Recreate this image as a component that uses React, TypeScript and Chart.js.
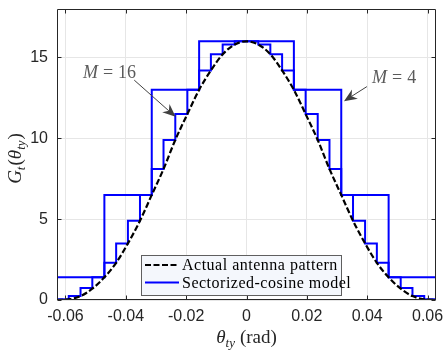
import React, { useEffect, useRef } from "react";
import { Chart, registerables } from "chart.js";
Chart.register(...registerables);

const W = 443;
const H = 351;

// Axis ticks
const xTicks = [-0.06, -0.04, -0.02, 0, 0.02, 0.04, 0.06];
const yTicks = [0, 5, 10, 15];
const xMin = -0.0628;
const xMax = 0.0628;
const yMin = 0;
const yMax = 18;

// Sectorized-cosine model, M = 16 (positive half: outer edge of each sector, gain)
const edges16 = [0.0039, 0.0079, 0.0118, 0.0157, 0.0196, 0.0236, 0.0275, 0.0314, 0.0353, 0.0393, 0.0432, 0.0471, 0.0511, 0.055, 0.0589, 0.0628];
const gain16 = [16, 15.8, 15.2, 14.2, 13.0, 11.5, 9.9, 8.1, 6.5, 4.9, 3.5, 2.3, 1.4, 0.75, 0.25, 0.05];

// Sectorized-cosine model, M = 4
const edges4 = [0.0157, 0.0314, 0.0471, 0.0628];
const gain4 = [16, 13, 6.5, 1.4];

// Actual antenna pattern samples (theta >= 0, symmetric)
const patternTheta = [0, 0.0039, 0.0079, 0.0118, 0.0157, 0.0196, 0.0236, 0.0275, 0.0314, 0.0353, 0.0393, 0.0432, 0.0471, 0.0511, 0.055, 0.0589, 0.0628];
const patternGain = [16, 15.8, 15.2, 14.2, 13.0, 11.5, 9.9, 8.1, 6.5, 4.9, 3.5, 2.3, 1.4, 0.7, 0.24, 0.04, 0];

const legendLabels = ["Actual antenna pattern", "Sectorized-cosine model"];

// Annotations (data coordinates)
const annLabels = ["16", "4"];
const annText = [[-0.0454, 14.1], [0.0489, 13.8]];
const annTail = [[-0.0372, 13.6], [0.0399, 13.2]];
const annTip = [[-0.0235, 11.33], [0.0323, 12.3]];

const SERIF = '"Liberation Serif", "DejaVu Serif", serif';
const SANS = '"Liberation Sans", Arial, Helvetica, sans-serif';
const BLUE = "#0000ff";

function stepSeries(edges: number[], gains: number[]) {
  const pts: { x: number; y: number }[] = [];
  const M = edges.length;
  for (let k = M - 1; k >= 1; k--) pts.push({ x: -edges[k], y: gains[k] });
  pts.push({ x: -edges[0], y: gains[0] });
  for (let k = 1; k < M; k++) pts.push({ x: edges[k - 1], y: gains[k] });
  pts.push({ x: edges[M - 1], y: gains[M - 1] });
  return pts;
}

function patternSeries() {
  const pts: { x: number; y: number }[] = [];
  for (let i = patternTheta.length - 1; i >= 1; i--) pts.push({ x: -patternTheta[i], y: patternGain[i] });
  for (let i = 0; i < patternTheta.length; i++) pts.push({ x: patternTheta[i], y: patternGain[i] });
  return pts;
}

type Part = { t: string; font: string; dy?: number; gap?: number };

function richWidth(ctx: CanvasRenderingContext2D, parts: Part[]) {
  let w = 0;
  for (const p of parts) {
    ctx.font = p.font;
    w += ctx.measureText(p.t).width + (p.gap || 0);
  }
  return w;
}

function drawRich(ctx: CanvasRenderingContext2D, parts: Part[], x: number, y: number) {
  let cx = x;
  for (const p of parts) {
    ctx.font = p.font;
    ctx.fillText(p.t, cx, y + (p.dy || 0));
    cx += ctx.measureText(p.t).width + (p.gap || 0);
  }
}

function drawArrow(ctx: CanvasRenderingContext2D, x0: number, y0: number, x1: number, y1: number) {
  const ang = Math.atan2(y1 - y0, x1 - x0);
  const hl = 13;
  const hw = 5.5;
  const notch = 9;
  const bx = x1 - hl * Math.cos(ang);
  const by = y1 - hl * Math.sin(ang);
  const nx = x1 - notch * Math.cos(ang);
  const ny = y1 - notch * Math.sin(ang);
  ctx.strokeStyle = "#404040";
  ctx.fillStyle = "#404040";
  ctx.lineWidth = 1;
  ctx.beginPath();
  ctx.moveTo(x0, y0);
  ctx.lineTo(nx, ny);
  ctx.stroke();
  ctx.beginPath();
  ctx.moveTo(x1, y1);
  ctx.lineTo(bx + hw * Math.sin(ang), by - hw * Math.cos(ang));
  ctx.lineTo(nx, ny);
  ctx.lineTo(bx - hw * Math.sin(ang), by + hw * Math.cos(ang));
  ctx.closePath();
  ctx.fill();
}

const overlay = {
  id: "overlay",
  afterDatasetsDraw(chart: any) {
    const ctx: CanvasRenderingContext2D = chart.ctx;
    const { left, right, top, bottom } = chart.chartArea;
    const xs = chart.scales.x;
    const ys = chart.scales.y;
    ctx.save();

    // Box and inward ticks
    const L = Math.round(left) + 0.5;
    const R = Math.round(right) - 0.5;
    const T = Math.round(top) + 0.5;
    const B = Math.round(bottom) - 0.5;
    ctx.strokeStyle = "#262626";
    ctx.lineWidth = 1;
    ctx.beginPath();
    ctx.rect(L, T, R - L, B - T);
    const tl = 4;
    for (const v of xTicks) {
      const px = Math.round(xs.getPixelForValue(v)) + 0.5;
      ctx.moveTo(px, B);
      ctx.lineTo(px, B - tl);
      ctx.moveTo(px, T);
      ctx.lineTo(px, T + tl);
    }
    for (const v of yTicks) {
      const py = Math.round(ys.getPixelForValue(v)) + 0.5;
      ctx.moveTo(L, py);
      ctx.lineTo(L + tl, py);
      ctx.moveTo(R, py);
      ctx.lineTo(R - tl, py);
    }
    ctx.stroke();

    // Annotations
    for (let i = 0; i < annLabels.length; i++) {
      const tx = xs.getPixelForValue(annTail[i][0]);
      const ty = ys.getPixelForValue(annTail[i][1]);
      const hx = xs.getPixelForValue(annTip[i][0]);
      const hy = ys.getPixelForValue(annTip[i][1]);
      drawArrow(ctx, tx, ty, hx, hy);
      const parts: Part[] = [
        { t: "M", font: `italic 18px ${SERIF}`, gap: 5 },
        { t: "=", font: `18px ${SERIF}`, gap: 5 },
        { t: annLabels[i], font: `18px ${SERIF}` },
      ];
      ctx.fillStyle = "#5a5a5a";
      ctx.textBaseline = "alphabetic";
      ctx.textAlign = "left";
      const w = richWidth(ctx, parts);
      const cx = xs.getPixelForValue(annText[i][0]);
      const cy = ys.getPixelForValue(annText[i][1]);
      drawRich(ctx, parts, cx - w / 2, cy + 6);
    }

    // Legend
    const lx = 141.5, ly = 255.5, lw = 200, lh = 40;
    ctx.fillStyle = "#f4f7fc";
    ctx.fillRect(lx, ly, lw, lh);
    ctx.strokeStyle = "#5f5f5f";
    ctx.lineWidth = 1;
    ctx.strokeRect(lx, ly, lw, lh);
    const rows = [265, 282.5];
    ctx.lineWidth = 2;
    ctx.strokeStyle = "#000";
    ctx.setLineDash([6, 2.5]);
    ctx.beginPath();
    ctx.moveTo(145, rows[0]);
    ctx.lineTo(179, rows[0]);
    ctx.stroke();
    ctx.setLineDash([]);
    ctx.strokeStyle = BLUE;
    ctx.beginPath();
    ctx.moveTo(145, rows[1]);
    ctx.lineTo(179, rows[1]);
    ctx.stroke();
    ctx.fillStyle = "#000";
    ctx.font = `16px ${SERIF}`;
    (ctx as any).letterSpacing = "0.5px";
    ctx.textAlign = "left";
    ctx.textBaseline = "alphabetic";
    ctx.fillText(legendLabels[0], 182, rows[0] + 5);
    ctx.fillText(legendLabels[1], 182, rows[1] + 5);
    (ctx as any).letterSpacing = "0px";

    // X title
    ctx.fillStyle = "#262626";
    const xParts: Part[] = [
      { t: "θ", font: `italic 19px ${SERIF}` },
      { t: "ty", font: `italic 13px ${SERIF}`, dy: 4, gap: 5 },
      { t: "(rad)", font: `19px ${SERIF}` },
    ];
    const xw = richWidth(ctx, xParts);
    drawRich(ctx, xParts, (left + right) / 2 - xw / 2, 343);

    // Y title
    const yParts: Part[] = [
      { t: "G", font: `italic 19px ${SERIF}` },
      { t: "t", font: `italic 13px ${SERIF}`, dy: 4, gap: 1 },
      { t: "(", font: `19px ${SERIF}` },
      { t: "θ", font: `italic 19px ${SERIF}` },
      { t: "ty", font: `italic 13px ${SERIF}`, dy: 4, gap: 1 },
      { t: ")", font: `19px ${SERIF}` },
    ];
    const yw = richWidth(ctx, yParts);
    ctx.translate(15, (top + bottom) / 2 + 4);
    ctx.rotate(-Math.PI / 2);
    drawRich(ctx, yParts, -yw / 2, 6);

    ctx.restore();
  },
};

export default function App() {
  const ref = useRef<HTMLCanvasElement | null>(null);
  useEffect(() => {
    if (!ref.current) return;
    const chart = new Chart(ref.current, {
      type: "line",
      data: {
        datasets: [
          {
            label: legendLabels[0],
            data: patternSeries(),
            borderColor: "#000",
            borderWidth: 2.2,
            borderDash: [6, 2.5],
            pointRadius: 0,
            cubicInterpolationMode: "monotone",
            fill: false,
          },
          {
            label: "M=4",
            data: stepSeries(edges4, gain4),
            borderColor: BLUE,
            borderWidth: 2,
            pointRadius: 0,
            stepped: true,
            fill: false,
          },
          {
            label: "M=16",
            data: stepSeries(edges16, gain16),
            borderColor: BLUE,
            borderWidth: 2,
            pointRadius: 0,
            stepped: true,
            fill: false,
          },
        ],
      } as any,
      options: {
        animation: false,
        responsive: false,
        maintainAspectRatio: false,
        layout: { padding: { top: 9, right: 7, left: 0, bottom: 0 } },
        plugins: { legend: { display: false }, tooltip: { enabled: false } },
        scales: {
          x: {
            type: "linear",
            min: xMin,
            max: xMax,
            afterBuildTicks: (s: any) => {
              s.ticks = xTicks.map((v) => ({ value: v }));
            },
            afterFit: (s: any) => {
              s.height = 51;
              s.paddingLeft = 0;
              s.paddingRight = 0;
            },
            grid: { color: "#e6e6e6", lineWidth: 1, drawTicks: false },
            border: { display: false },
            ticks: {
              font: { family: SANS, size: 16 },
              color: "#262626",
              padding: 7,
              maxRotation: 0,
              autoSkip: false,
              callback: (v: any) => (Number(v) === 0 ? "0" : Number(v).toFixed(2)),
            },
          },
          y: {
            type: "linear",
            min: yMin,
            max: yMax,
            afterBuildTicks: (s: any) => {
              s.ticks = yTicks.map((v) => ({ value: v }));
            },
            afterFit: (s: any) => {
              s.width = 57;
              s.paddingTop = 0;
              s.paddingBottom = 0;
            },
            grid: { color: "#e6e6e6", lineWidth: 1, drawTicks: false },
            border: { display: false },
            ticks: {
              font: { family: SANS, size: 16 },
              color: "#262626",
              padding: 9,
              autoSkip: false,
              callback: (v: any) => String(v),
            },
          },
        },
      } as any,
      plugins: [overlay],
    });
    return () => chart.destroy();
  }, []);
  return (
    <div style={{ position: "fixed", left: 0, top: 0, width: W, height: H, background: "#fff" }}>
      <canvas ref={ref} width={W} height={H} style={{ width: W, height: H, display: "block" }} />
    </div>
  );
}
